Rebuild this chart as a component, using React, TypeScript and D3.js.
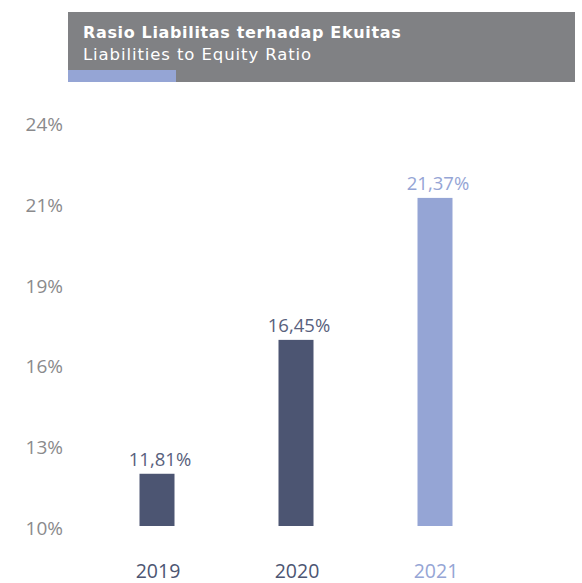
import React, { useRef, useEffect } from "react";
import * as d3 from "d3";

const years = ["2019", "2020", "2021"];
const ratios = [11.81, 16.45, 21.37];
const valueLabels = ["11,81%", "16,45%", "21,37%"];
const tickValues = [10, 12.8, 15.6, 18.4, 21.2, 24];
const tickLabels = ["10%", "13%", "16%", "19%", "21%", "24%"];
const titleId = "Rasio Liabilitas terhadap Ekuitas";
const titleEn = "Liabilities to Equity Ratio";

const DARK = "#4c5572";
const LIGHT = "#95a5d5";
const FONT = "'Open Sans', 'Noto Sans', sans-serif";
const HEAD_FONT = "'DejaVu Sans', sans-serif";

const App = () => {
  const svgRef = useRef<SVGSVGElement>(null);

  useEffect(() => {
    const svg = d3.select(svgRef.current);
    svg.selectAll("*").remove();
    const width = 582;
    const height = 583;

    svg.attr("width", width).attr("height", height);

    // header block
    svg
      .append("rect")
      .attr("x", 68)
      .attr("y", 12)
      .attr("width", 507)
      .attr("height", 70)
      .attr("fill", "#808184");
    svg
      .append("rect")
      .attr("x", 68)
      .attr("y", 70)
      .attr("width", 108)
      .attr("height", 12)
      .attr("fill", LIGHT);
    svg
      .append("text")
      .attr("x", 83)
      .attr("y", 38)
      .style("font-family", HEAD_FONT)
      .style("font-weight", 700)
      .style("font-size", "16px")
      .style("letter-spacing", "0.65px")
      .style("fill", "#fff")
      .text(titleId);
    svg
      .append("text")
      .attr("x", 83)
      .attr("y", 60)
      .style("font-family", HEAD_FONT)
      .style("font-size", "16.5px")
      .style("letter-spacing", "0.9px")
      .style("fill", "#fff")
      .text(titleEn);

    const x = d3.scalePoint().domain(years).range([87.5, 504.5]).padding(0.5);
    const y = d3.scaleLinear().domain([10, 24]).range([526, 122]);
    const barW = 35;
    const colorOf = (i: number) => (i === years.length - 1 ? LIGHT : DARK);

    // y labels
    svg
      .append("g")
      .selectAll("text")
      .data(tickValues)
      .enter()
      .append("text")
      .attr("x", 63)
      .attr("y", (d) => y(d) + 2)
      .attr("text-anchor", "end")
      .attr("dominant-baseline", "central")
      .style("font-family", FONT)
      .style("font-size", "19px")
      .style("fill", "#8a8a8c")
      .text((d, i) => tickLabels[i]);

    // bars
    svg
      .append("g")
      .selectAll("rect")
      .data(ratios)
      .enter()
      .append("rect")
      .attr("x", (d, i) => x(years[i])! - barW / 2)
      .attr("y", (d) => y(d))
      .attr("width", barW)
      .attr("height", (d) => y(10) - y(d))
      .attr("fill", (d, i) => colorOf(i));

    // value labels
    svg
      .append("g")
      .selectAll("text")
      .data(ratios)
      .enter()
      .append("text")
      .attr("x", (d, i) => x(years[i])! + 3)
      .attr("y", (d) => y(d) - 8)
      .attr("text-anchor", "middle")
      .style("font-family", FONT)
      .style("font-size", "18.5px")
      .style("fill", (d, i) => (i === years.length - 1 ? LIGHT : "#59617d"))
      .text((d, i) => valueLabels[i]);

    // year labels
    svg
      .append("g")
      .selectAll("text")
      .data(years)
      .enter()
      .append("text")
      .attr("x", (d) => x(d)! + 1)
      .attr("y", 578)
      .attr("text-anchor", "middle")
      .style("font-family", FONT)
      .style("font-size", "19.5px")
      .style("fill", (d, i) => colorOf(i))
      .text((d) => d);
  }, []);

  return (
    <div style={{ position: "absolute", left: 0, top: 0 }}>
      <svg ref={svgRef} style={{ display: "block" }}></svg>
    </div>
  );
};

export default App;
